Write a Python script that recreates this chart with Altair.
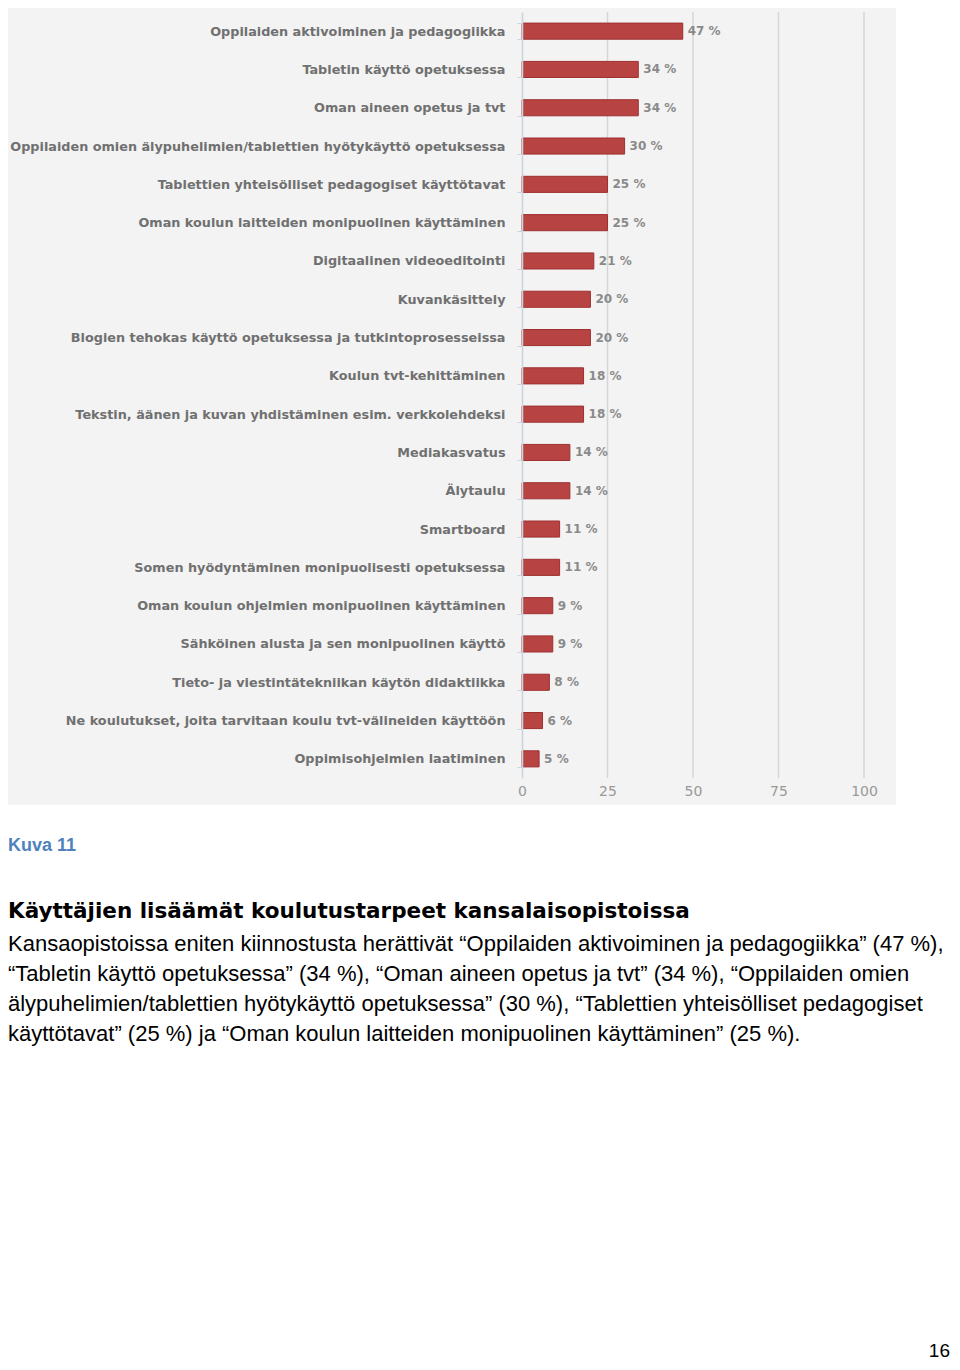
import altair as alt
import pandas as pd

categories = [
    "Oppilaiden aktivoiminen ja pedagogiikka",
    "Tabletin käyttö opetuksessa",
    "Oman aineen opetus ja tvt",
    "Oppilaiden omien älypuhelimien/tablettien hyötykäyttö opetuksessa",
    "Tablettien yhteisölliset pedagogiset käyttötavat",
    "Oman koulun laitteiden monipuolinen käyttäminen",
    "Digitaalinen videoeditointi",
    "Kuvankäsittely",
    "Blogien tehokas käyttö opetuksessa ja tutkintoprosesseissa",
    "Koulun tvt-kehittäminen",
    "Tekstin, äänen ja kuvan yhdistäminen esim. verkkolehdeksi",
    "Mediakasvatus",
    "Älytaulu",
    "Smartboard",
    "Somen hyödyntäminen monipuolisesti opetuksessa",
    "Oman koulun ohjelmien monipuolinen käyttäminen",
    "Sähköinen alusta ja sen monipuolinen käyttö",
    "Tieto- ja viestintätekniikan käytön didaktiikka",
    "Ne koulutukset, joita tarvitaan koulu tvt-välineiden käyttöön",
    "Oppimisohjelmien laatiminen",
]
values = [47, 34, 34, 30, 25, 25, 21, 20, 20, 18, 18, 14, 14, 11, 11, 9, 9, 8, 6, 5]
x_ticks = [0, 25, 50, 75, 100]
grid_values = [25, 50, 75, 100]

caption = "Kuva 11"
heading = "Käyttäjien lisäämät koulutustarpeet kansalaisopistoissa"
body_lines = [
    "Kansaopistoissa eniten kiinnostusta herättivät “Oppilaiden aktivoiminen ja pedagogiikka” (47 %),",
    "“Tabletin käyttö opetuksessa” (34 %), “Oman aineen opetus ja tvt” (34 %), “Oppilaiden omien",
    "älypuhelimien/tablettien hyötykäyttö opetuksessa” (30 %), “Tablettien yhteisölliset pedagogiset",
    "käyttötavat” (25 %) ja “Oman koulun laitteiden monipuolinen käyttäminen” (25 %).",
]
page_number = "16"

df = pd.DataFrame({"cat": categories, "val": values})
df["label"] = df["val"].astype(str) + " %"
grid_df = pd.DataFrame({"val": grid_values})

W, H = 342, 766
OX, OY = 522, 12  # plot origin in page px

x_scale = alt.Scale(domain=[0, 100], nice=False)

y_enc = alt.Y(
    "cat:N", sort=categories, title=None,
    scale=alt.Scale(paddingInner=0.58, paddingOuter=0.29),
    axis=alt.Axis(
        labelFont="DejaVu Sans", labelFontSize=12.8, labelFontWeight="bold",
        labelColor="#707070",
        labelLimit=600, tickBand="extent", tickSize=5, tickColor="#c8d4e0",
        domainColor="#c8d4e0", domainWidth=1.5, labelPadding=12, grid=False,
        zindex=1,
    ),
)
x_enc = alt.X(
    "val:Q", title=None, scale=x_scale,
    axis=alt.Axis(
        values=x_ticks, labelFont="DejaVu Sans", labelFontSize=14,
        labelColor="#999999", domain=False, ticks=False, labelPadding=6,
        grid=False, labelFlush=False, zindex=1,
    ),
)

one = alt.Data(values=[{}])

bg = alt.Chart(one).mark_rect(color="#f3f3f3").encode(
    x=alt.value(6 - OX), x2=alt.value(896 - OX),
    y=alt.value(6 - OY), y2=alt.value(805 - OY),
)

grid = alt.Chart(grid_df).mark_rule(color="#d6d6d6", strokeWidth=1.5).encode(
    x=alt.X("val:Q", scale=x_scale), y=alt.value(0), y2=alt.value(H)
)

bars = alt.Chart(df).mark_bar(color="#b84343", stroke="#9e3030", strokeWidth=1).encode(
    x=x_enc, y=y_enc
)
labels = alt.Chart(df).mark_text(
    align="left", dx=5, font="DejaVu Sans", fontSize=12, fontWeight="bold", color="#8a8a8a"
).encode(x="val:Q", y=alt.Y("cat:N", sort=categories), text="label:N")


def txt(s, X, Y, size, weight="normal", color="#000000", font="Liberation Sans", align="left"):
    return alt.Chart(one).mark_text(
        text=s, align=align, baseline="alphabetic", fontSize=size,
        fontWeight=weight, color=color, font=font,
    ).encode(x=alt.value(X - OX), y=alt.value(Y - OY))


texts = [
    txt(caption, 8, 851, 18, "bold", "#4f81bd"),
    txt(heading, 8, 918, 21.5, "bold", "#000000", "DejaVu Sans"),
]
for i, line in enumerate(body_lines):
    texts.append(txt(line, 8, 951 + 30 * i, 22))
texts.append(txt(page_number, 950, 1357, 19, align="right"))

chart = alt.layer(bg, grid, bars, labels, *texts).properties(
    width=W, height=H,
    autosize=alt.AutoSizeParams(type="none"),
    padding={"left": OX - 8, "top": OY - 8, "right": 944 - (OX - 8) - W, "bottom": 1354 - (OY - 8) - H},
).configure_view(stroke=None).configure(background="white")

chart.save("out.html", embed_options={"renderer": "svg", "actions": False})
